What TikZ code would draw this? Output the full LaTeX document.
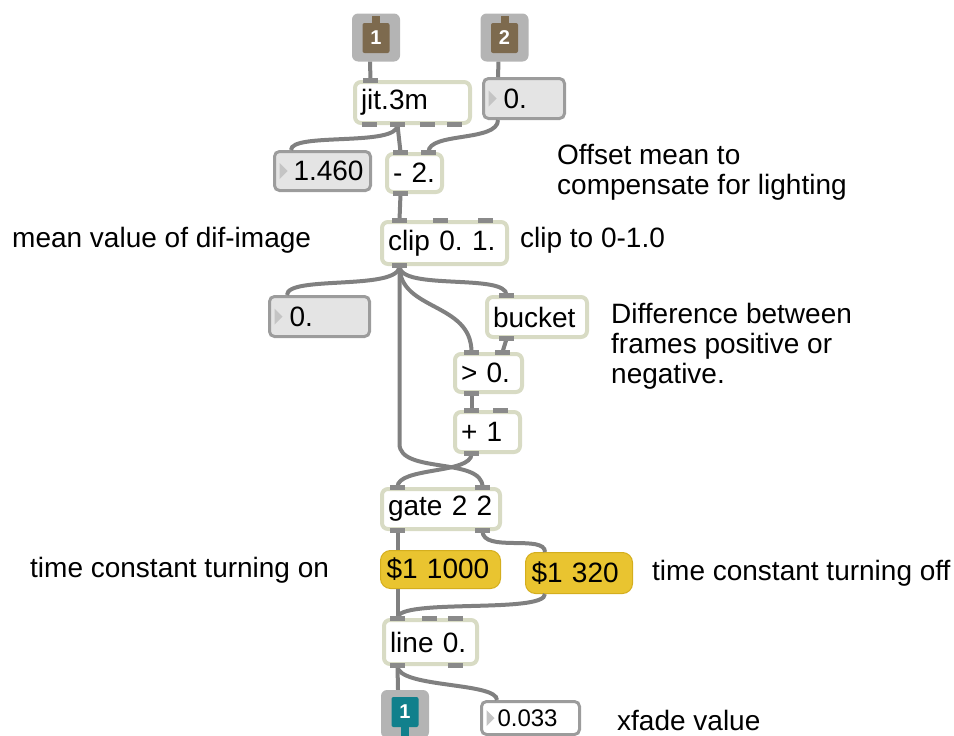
\documentclass[tikz,border=0pt]{standalone}
\usepackage{fontspec}
\setmainfont{Liberation Sans}
\frenchspacing

\definecolor{objline}{HTML}{D8DBC4}
\definecolor{portgray}{HTML}{8A8A8A}
\definecolor{cordgray}{HTML}{808080}
\definecolor{numfill}{HTML}{E4E4E4}
\definecolor{numline}{HTML}{9C9C9C}
\definecolor{trigray}{HTML}{C4C4C4}
\definecolor{msgfill}{HTML}{E9C430}
\definecolor{msgline}{HTML}{D4AE1E}
\definecolor{iogray}{HTML}{B4B4B4}
\definecolor{inbrown}{HTML}{7D6A4E}
\definecolor{outteal}{HTML}{11808C}

\newcommand{\pf}{\fontsize{28pt}{30pt}\selectfont}

% inlet / outlet marks on the edge of a box
\newcommand{\portsin}[2]{\foreach \p in {#2} {\fill[portgray] ([xshift=\p pt, yshift=2pt]#1.north west) rectangle ++(15,5);}}
\newcommand{\portsout}[2]{\foreach \p in {#2} {\fill[portgray] ([xshift=\p pt, yshift=-2pt]#1.south west) rectangle ++(15,-5);}}

\tikzset{
  obj/.style={draw=objline, line width=4pt, fill=white, rounded corners=6pt, anchor=north west,
    inner xsep=6pt, inner ysep=0pt, align=left, font=\pf},
  msg/.style={obj, draw=msgline, line width=1pt, fill=msgfill, rounded corners=10pt},
  num/.style={obj, draw=numline, line width=3pt, fill=numfill, rounded corners=5pt,
    path picture={\fill[trigray, sharp corners] ([xshift=5pt,yshift=8pt]path picture bounding box.west)
      -- ([xshift=5pt,yshift=-8pt]path picture bounding box.west)
      -- ([xshift=13pt]path picture bounding box.west) -- cycle;}},
  cord/.style={draw=cordgray, line width=4pt},
  ioframe/.style={fill=iogray, rounded corners=6pt, minimum size=48pt, inner sep=0pt},
  iobody/.style={text=white, font=\fontsize{20pt}{20pt}\selectfont\bfseries, minimum width=27pt,
    minimum height=30pt, inner sep=0pt, rounded corners=2pt},
  note/.style={anchor=west, align=left, font=\pf, inner sep=0pt},
}

\begin{document}
\begin{tikzpicture}[x=1pt, y=-1pt]
    \useasboundingbox (0,0) rectangle (954,736);

    % Inlets and outlet
    \node[ioframe] (in1f) at (376,37.5) {};
    \node[iobody, fill=inbrown] (in1) at (376,38) {1};
    \fill[inbrown] ([xshift=-4pt]in1.north) rectangle ++(8,-7);
    \node[ioframe] (in2f) at (504.5,37.5) {};
    \node[iobody, fill=inbrown] (in2) at (504.5,38) {2};
    \fill[inbrown] ([xshift=-4pt]in2.north) rectangle ++(8,-7);
    \node[ioframe] (outf) at (405,714) {};
    \node[iobody, fill=outteal] (out1) at (405,712) {1};
    \fill[outteal] ([xshift=-4pt]out1.south) rectangle ++(8,14);

    % Objects
    \node[obj, text width=103pt, minimum height=41pt] (jit) at (353,80) {jit.3m};
    \node[num, text width=69pt, minimum height=40pt] (dc) at (482,77) {\hspace*{14pt}0.};
    \node[num, text width=84pt, minimum height=39pt] (mean) at (273,150) {\hspace*{13pt}1.460};
    \node[obj, text width=43pt, minimum height=38pt] (offset) at (385,152) {- 2.};
    \node[obj, text width=113pt, minimum height=42pt] (clip) at (380,220) {clip 0. 1.};
    \node[num, text width=88pt, minimum height=40pt] (level) at (268,295) {\hspace*{14pt}0.};
    \node[obj, text width=88pt, minimum height=40pt] (bucket) at (485,295) {bucket};
    \node[obj, text width=55pt, minimum height=38pt] (gt) at (453,352) {> 0.};
    \node[obj, text width=53pt, minimum height=40pt] (plus) at (453,410) {+ 1};
    \node[obj, text width=106pt, minimum height=40pt] (gate) at (380,487) {gate 2 2};
    \node[msg, text width=108pt, minimum height=38pt] (on) at (380,550) {\$1 1000};
    \node[msg, text width=95pt, minimum height=41pt] (off) at (525,552) {\$1 320};
    \node[obj, text width=81pt, minimum height=44pt] (ramp) at (382,618) {line 0.};
    \node[num, fill=white, text width=86pt, minimum height=33pt,
      font=\fontsize{24pt}{26pt}\selectfont] (xfade) at (480,700) {\hspace*{10pt}0.033};

    % Patch cords
    \draw[cord] ([xshift=-6pt]in1f.south) -- ([xshift=17.5pt]jit.north west);
    \draw[cord] ([xshift=-6pt]in2f.south) -- ([xshift=16pt]dc.north west);
    \draw[cord] ([xshift=44.5pt]jit.south west) -- ([xshift=15.5pt]offset.north west);
    \draw[cord] ([xshift=44.5pt]jit.south west) .. controls +(0,22) and +(0,-18) .. ([xshift=18pt]mean.north west);
    \draw[cord] ([xshift=16pt]dc.south west) .. controls +(0,22) and +(0,-20) .. ([xshift=43.5pt]offset.north west);
    \draw[cord] ([xshift=15.5pt]offset.south west) -- ([xshift=19.5pt]clip.north west);
    \draw[cord] ([xshift=19.5pt]clip.south west) .. controls +(0,25) and +(0,-20) .. ([xshift=19pt]level.north west);
    \draw[cord] ([xshift=19.5pt]clip.south west) .. controls +(0,25) and +(0,-22) .. ([xshift=21.5pt]bucket.north west);
    \draw[cord] ([xshift=19.5pt]clip.south west) .. controls +(0,45) and +(0,-50) .. ([xshift=18.5pt]gt.north west);
    \draw[cord] ([xshift=19.5pt]clip.south west) -- ++(0,178) .. controls +(0,30) and +(0,-30) .. ([xshift=102.5pt]gate.north west);
    \draw[cord] ([xshift=21.5pt]bucket.south west) -- ([xshift=49.5pt]gt.north west);
    \draw[cord] ([xshift=18.5pt]gt.south west) -- ([xshift=18.5pt]plus.north west);
    \draw[cord] ([xshift=18.5pt]plus.south west) .. controls +(0,20) and +(0,-20) .. ([xshift=17.5pt]gate.north west);
    \draw[cord] ([xshift=17.5pt]gate.south west) -- ([xshift=17.5pt]on.north west);
    \draw[cord] ([xshift=102.5pt]gate.south west) .. controls +(0,22) and +(0,-18) .. ([xshift=20pt]off.north west);
    \draw[cord] ([xshift=17.5pt]on.south west) -- ([xshift=15.5pt]ramp.north west);
    \draw[cord] ([xshift=20pt]off.south west) .. controls +(0,20) and +(0,-20) .. ([xshift=15.5pt]ramp.north west);
    \draw[cord] ([xshift=15.5pt]ramp.south west) -- ([xshift=-7pt]outf.north);
    \draw[cord] ([xshift=15.5pt]ramp.south west) .. controls +(0,22) and +(0,-18) .. ([xshift=17pt]xfade.north west);

    % Ports
    \portsin{jit}{10}
    \portsout{jit}{9,37,67,94}
    \portsin{offset}{8,36}
    \portsout{offset}{8}
    \portsin{clip}{12,53,98}
    \portsout{clip}{12}
    \portsin{bucket}{14}
    \portsout{bucket}{14}
    \portsin{gt}{11,42}
    \portsout{gt}{11}
    \portsin{plus}{11,40}
    \portsout{plus}{11}
    \portsin{gate}{10,95}
    \portsout{gate}{10,95}
    \portsin{ramp}{8,40,66}
    \portsout{ramp}{8,66}

    % Comments
    \node[note] (c1) at (557,172) {Offset mean to\\compensate for lighting};
    \node[note] (c2) at (12,240) {mean value of dif-image};
    \node[note] (c3) at (520,240) {clip to 0-1.0};
    \node[note] (c4) at (611,346) {Difference between\\frames positive or\\negative.};
    \node[note] (c5) at (30,570) {time constant turning on};
    \node[note] (c6) at (652,573) {time constant turning off};
    \node[note] (c7) at (617,720) {xfade value};
\end{tikzpicture}
\end{document}
